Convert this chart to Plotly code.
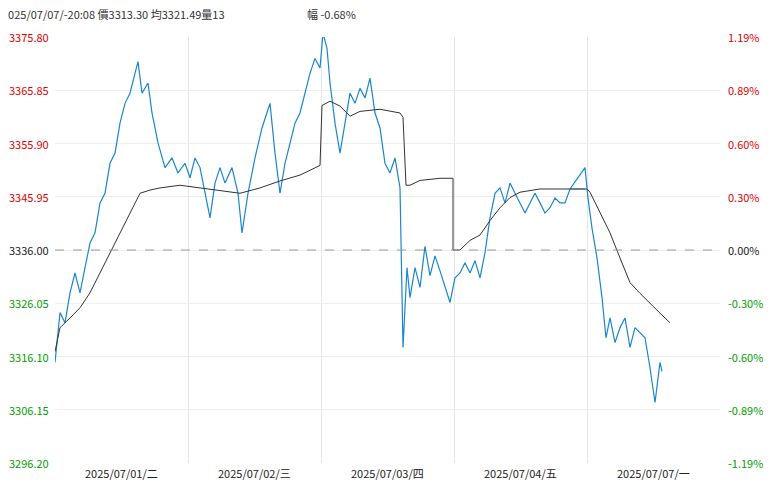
import plotly.graph_objects as go

# time axis in units of 1/133 day (0..665 = five sessions)
price_t = [0,5,10,15,20,25,30,35,40,45,50,55,60,65,70,75,80,83,87,93,97,103,110,117,123,130,135,140,145,150,155,160,165,170,177,183,187,193,200,207,215,220,225,230,235,240,245,250,255,260,265,268,272,275,280,285,290,295,300,305,310,315,320,325,330,335,340,345,348,352,355,360,365,370,375,380,385,390,395,400,405,410,415,420,425,430,435,440,445,450,455,460,465,470,475,480,485,490,495,500,505,510,515,530,533,537,542,547,551,555,560,565,570,575,580,585,590,595,600,605,607,610,615]
price = [3315.0,3324.3,3322.4,3328.0,3331.7,3328.0,3332.7,3337.3,3339.2,3344.8,3346.6,3352.2,3354.1,3359.7,3363.4,3365.3,3369.0,3371.2,3365.3,3367.2,3361.6,3356.0,3351.4,3353.2,3350.4,3352.2,3349.5,3353.2,3351.4,3346.6,3342.0,3348.5,3351.4,3348.5,3351.4,3346.6,3339.2,3346.6,3353.2,3358.8,3363.4,3354.1,3346.6,3352.2,3355.9,3359.7,3361.6,3365.3,3369.0,3371.8,3370.0,3376.5,3373.7,3367.2,3359.7,3354.1,3359.7,3365.3,3363.4,3366.2,3364.4,3368.1,3361.6,3358.8,3352.2,3350.4,3353.2,3347.6,3317.8,3332.7,3327.1,3332.7,3329.0,3336.7,3331.2,3334.9,3332.1,3329.0,3326.2,3330.8,3331.7,3333.6,3331.7,3334.0,3330.8,3335.5,3342.0,3346.6,3347.6,3344.8,3348.5,3346.6,3344.8,3342.9,3344.8,3346.6,3344.8,3342.9,3343.9,3345.7,3344.8,3344.8,3347.4,3351.4,3345.7,3340.1,3334.5,3327.1,3319.6,3323.3,3318.7,3321.5,3323.3,3317.8,3321.5,3320.6,3319.6,3314.0,3307.5,3315.0,3313.3]
avg_t = [0,5,15,25,35,45,55,65,75,85,95,105,125,145,165,185,205,225,245,265,267,275,285,295,305,325,345,348,351,355,365,385,398,398,405,415,425,435,445,455,465,485,505,525,532,535,545,555,565,575,585,595,605,615]
avg = [3317.0,3321.5,3323.3,3325.2,3328.0,3331.7,3335.5,3339.2,3342.9,3346.6,3347.2,3347.6,3348.1,3347.6,3347.0,3346.6,3347.6,3348.9,3350.0,3351.8,3363.0,3363.8,3362.9,3361.0,3361.9,3362.3,3361.6,3360.8,3348.1,3348.1,3349.0,3349.4,3349.4,3336.0,3336.0,3337.8,3338.8,3341.5,3343.9,3345.8,3346.8,3347.4,3347.4,3347.4,3347.4,3346.8,3342.9,3339.2,3334.5,3329.9,3327.9,3326.0,3324.2,3322.4]
flat_t = [515, 530]
flat_v = [3347.4, 3347.4]

base = 3336.00
y_ticks = [3375.80, 3365.85, 3355.90, 3345.95, 3336.00, 3326.05, 3316.10, 3306.15, 3296.20]
pct_labels = ["1.19%", "0.89%", "0.60%", "0.30%", "0.00%", "-0.30%", "-0.60%", "-0.89%", "-1.19%"]
day_labels = ["2025/07/01/二", "2025/07/02/三", "2025/07/03/四", "2025/07/04/五", "2025/07/07/一"]

fig = go.Figure()
fig.add_trace(go.Scatter(x=price_t, y=price, mode="lines", line=dict(color="#1a86d0", width=1.2), hoverinfo="skip"))
fig.add_trace(go.Scatter(x=flat_t, y=flat_v, mode="lines", line=dict(color="#5ab0e8", width=1.2), hoverinfo="skip"))
fig.add_trace(go.Scatter(x=avg_t, y=avg, mode="lines", line=dict(color="#333333", width=1), hoverinfo="skip"))

fig.add_hline(y=base, line=dict(color="#999999", width=1, dash="dash"))

ann = []
for v, p in zip(y_ticks, pct_labels):
    col = "#e00000" if v > base else ("#00a000" if v < base else "#222222")
    ann.append(dict(x=0, xref="paper", y=v, yref="y", text=f"{v:.2f}", showarrow=False,
                    xanchor="right", xshift=-4, font=dict(color=col, size=11)))
    ann.append(dict(x=1, xref="paper", y=v, yref="y", text=p, showarrow=False,
                    xanchor="left", xshift=6, font=dict(color=col, size=11)))
for i, d in enumerate(day_labels):
    ann.append(dict(x=i * 133 + 66.5, y=0, yref="paper", text=d, showarrow=False,
                    yanchor="top", yshift=0, font=dict(color="#222222", size=11)))
ann.append(dict(x=0, xref="paper", xshift=-55, y=1, yref="paper", yshift=33, yanchor="top", xanchor="left",
                text="2025/07/07/-20:08 價3313.30 均3321.49量13", showarrow=False, font=dict(size=11, color="#333")))
ann.append(dict(x=0, xref="paper", xshift=250, y=1, yref="paper", yshift=33, yanchor="top", xanchor="left",
                text="幅 -0.68%", showarrow=False, font=dict(size=11, color="#333")))

fig.update_layout(
    width=771, height=484, showlegend=False,
    margin=dict(l=47, r=59, t=29, b=29),
    plot_bgcolor="white", paper_bgcolor="white",
    font=dict(family="Noto Sans CJK TC, sans-serif"),
    annotations=ann,
    xaxis=dict(range=[0, 665], tickvals=[133, 266, 399, 532], showticklabels=False,
               showgrid=True, gridcolor="#e6e6e6", zeroline=False, fixedrange=True),
    yaxis=dict(range=[3296.20, 3375.80], tickvals=y_ticks, showticklabels=False,
               showgrid=True, gridcolor="#eeeeee", zeroline=False),
)
fig.write_html("out.html")
